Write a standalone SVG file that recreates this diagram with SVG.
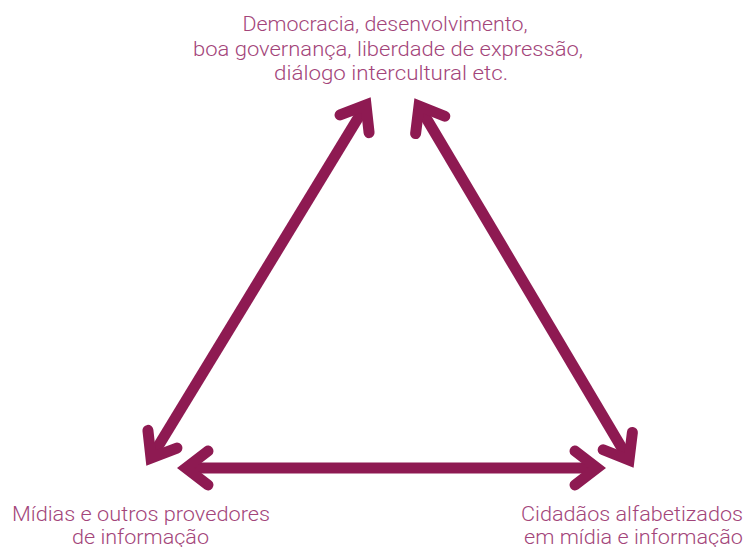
<svg xmlns="http://www.w3.org/2000/svg" width="745" height="547" viewBox="0 0 745 547">
<style>
.lbl{font-family:Roboto,"Liberation Sans",sans-serif;font-weight:300;font-size:20px;fill:#a3457a;text-anchor:middle}
.arr{stroke:#8e1a52;stroke-width:11;fill:none;marker-start:url(#chev);marker-end:url(#chev)}
</style>
<defs>
<marker id="chev" markerUnits="userSpaceOnUse" orient="auto-start-reverse" overflow="visible" markerWidth="1" markerHeight="1" refX="0" refY="0">
<path d="M-22,-17 L0,0 L-22,17" fill="none" stroke="#8e1a52" stroke-width="11" stroke-linecap="round" stroke-linejoin="miter"/>
</marker>
</defs>
<g id="connectors">
<line class="arr" x1="151" y1="458" x2="366" y2="105"/>
<line class="arr" x1="419" y1="106" x2="629" y2="460"/>
<line class="arr" x1="186" y1="468" x2="597" y2="468"/>
</g>
<g id="top">
<text class="lbl" x="385" y="31" textLength="285" lengthAdjust="spacingAndGlyphs">Democracia, desenvolvimento,</text>
<text class="lbl" x="388" y="55.5" textLength="390" lengthAdjust="spacingAndGlyphs">boa governança, liberdade de expressão,</text>
<text class="lbl" x="391" y="80" textLength="234" lengthAdjust="spacingAndGlyphs">diálogo intercultural etc.</text>
</g>
<g id="left">
<text class="lbl" x="141" y="521" textLength="258" lengthAdjust="spacingAndGlyphs">Mídias e outros provedores</text>
<text class="lbl" x="140.5" y="544" textLength="137" lengthAdjust="spacingAndGlyphs">de informação</text>
</g>
<g id="right">
<text class="lbl" x="632" y="521" textLength="222" lengthAdjust="spacingAndGlyphs">Cidadãos alfabetizados</text>
<text class="lbl" x="633.5" y="544" textLength="219" lengthAdjust="spacingAndGlyphs">em mídia e informação</text>
</g>
</svg>
